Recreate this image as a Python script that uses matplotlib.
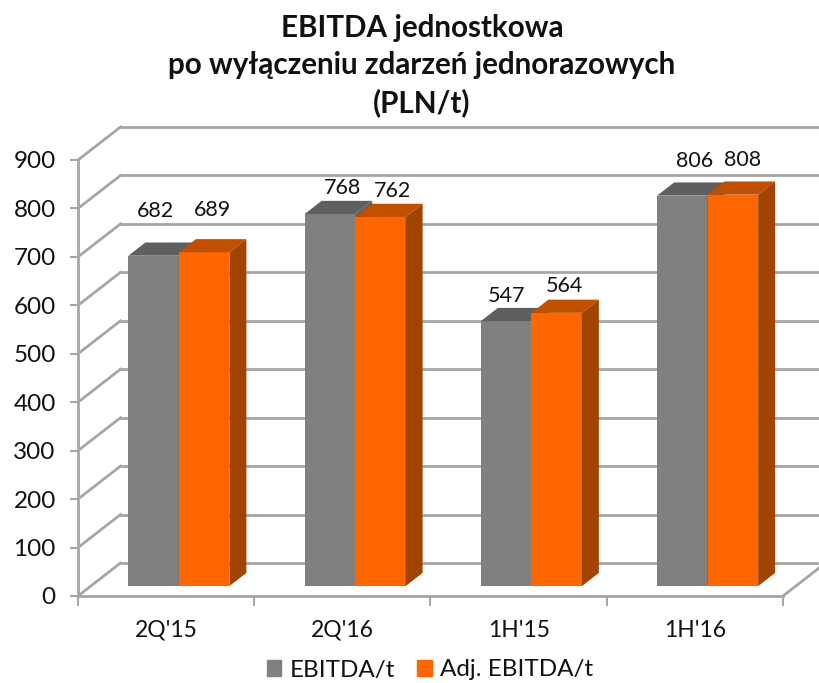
#!/usr/bin/env python
import matplotlib
matplotlib.use('Agg')
import matplotlib.pyplot as plt
from matplotlib.patches import Patch

categories = ["2Q'15", "2Q'16", "1H'15", "1H'16"]
ebitda = [682, 768, 547, 806]
adj_ebitda = [689, 762, 564, 808]
yticks = [0, 100, 200, 300, 400, 500, 600, 700, 800, 900]

# where the value labels sit relative to the top of the bar, in pixels
ebitda_lab_off = [(2, 45), (12.5, 26), (0, 25), (12, 34.5)]
adj_lab_off = [(8, 42), (12, 26), (8, 27), (10, 34.5)]

WALL = '#a6a6a6'
GRAY = ['#808080', '#5f5f5f', '#5f5f5f']
ORANGE = ['#ff6600', '#c05000', '#a04400']

# size of the 3d wall offset in data units
DX = 42.5 / 176.25
DY = 33 * 900 / 436
BAR_W = 50.5 / 176.25
FRONT = 0.3
BACK = 0.7


def box(ax, x, val, cols, off):
    # x = left edge of the bar on the front plane of the floor
    x0 = x + FRONT * DX
    x1 = x0 + BAR_W
    y0 = FRONT * DY
    y1 = val + FRONT * DY
    ddx = (BACK - FRONT) * DX
    ddy = (BACK - FRONT) * DY
    ax.bar(x0, val, BAR_W, bottom=y0, align='edge', color=cols[0], zorder=3)
    ax.fill([x0, x1, x1 + ddx, x0 + ddx], [y1, y1, y1 + ddy, y1 + ddy],
            color=cols[1], lw=0, zorder=3)
    ax.fill([x1, x1 + ddx, x1 + ddx, x1], [y0, y0 + ddy, y1 + ddy, y1],
            color=cols[2], lw=0, zorder=3)
    ax.annotate(str(val), ((x0 + x1) / 2, y1), xytext=off,
                textcoords='offset pixels', ha='center', va='center',
                fontsize=15.5, color='#111111', zorder=5)


def main():
    plt.rcParams['font.family'] = ['Lato', 'DejaVu Sans']
    fig = plt.figure(figsize=(8.2, 6.83), dpi=100)
    ax = fig.add_axes([78 / 820, 1 - 596 / 683, 705 / 820, 436 / 683])
    ax.set_xlim(0, 4)
    ax.set_ylim(0, 900)
    ax.patch.set_visible(False)

    for s in ['top', 'right']:
        ax.spines[s].set_visible(False)
    for s in ['left', 'bottom']:
        ax.spines[s].set_color(WALL)
        ax.spines[s].set_linewidth(2)

    # walls
    for v in yticks:
        ax.plot([0, DX], [v, v + DY], color=WALL, lw=2, zorder=1, clip_on=False)
        ax.plot([DX, 4 + DX], [v + DY, v + DY], color=WALL, lw=2, zorder=1,
                clip_on=False)
    ax.plot([4, 4 + DX], [0, DY], color=WALL, lw=2, zorder=1, clip_on=False)

    n = len(categories)
    for i in range(n):
        left = i + 0.5 - BAR_W
        box(ax, left, ebitda[i], GRAY, ebitda_lab_off[i])
        box(ax, left + BAR_W, adj_ebitda[i], ORANGE, adj_lab_off[i])

    ax.set_yticks(yticks)
    ax.set_xticks(range(n + 1))
    ax.set_xticklabels([])
    ax.set_xticks([i + 0.5 for i in range(n)], minor=True)
    ax.set_xticklabels(categories, minor=True)
    ax.tick_params(axis='y', length=6, width=1.5, color=WALL, labelsize=17.5,
                   pad=10, labelcolor='#111111')
    ax.tick_params(axis='x', which='major', length=7, width=1.5, color=WALL)
    ax.tick_params(axis='x', which='minor', length=0, labelsize=16.5, pad=17,
                   labelcolor='#111111')

    fig.text(422 / 820, 1 - 65.5 / 683, 'EBITDA jednostkowa\npo wyłączeniu zdarzeń jednorazowych\n(PLN/t)',
             ha='center', va='center', fontsize=21.3, fontweight='bold',
             color='#111111', linespacing=1.37)

    handles = [Patch(color=GRAY[0], label='EBITDA/t'),
               Patch(color=ORANGE[0], label='Adj. EBITDA/t')]
    fig.legend(handles=handles, loc='center', bbox_to_anchor=(430 / 820, 1 - 670 / 683),
               ncol=2, frameon=False, fontsize=17.5, handlelength=0.6,
               handleheight=0.6, handletextpad=0.35, columnspacing=0.9,
               labelcolor='#111111')

    fig.savefig('out.png', dpi=100)


if __name__ == '__main__':
    main()
